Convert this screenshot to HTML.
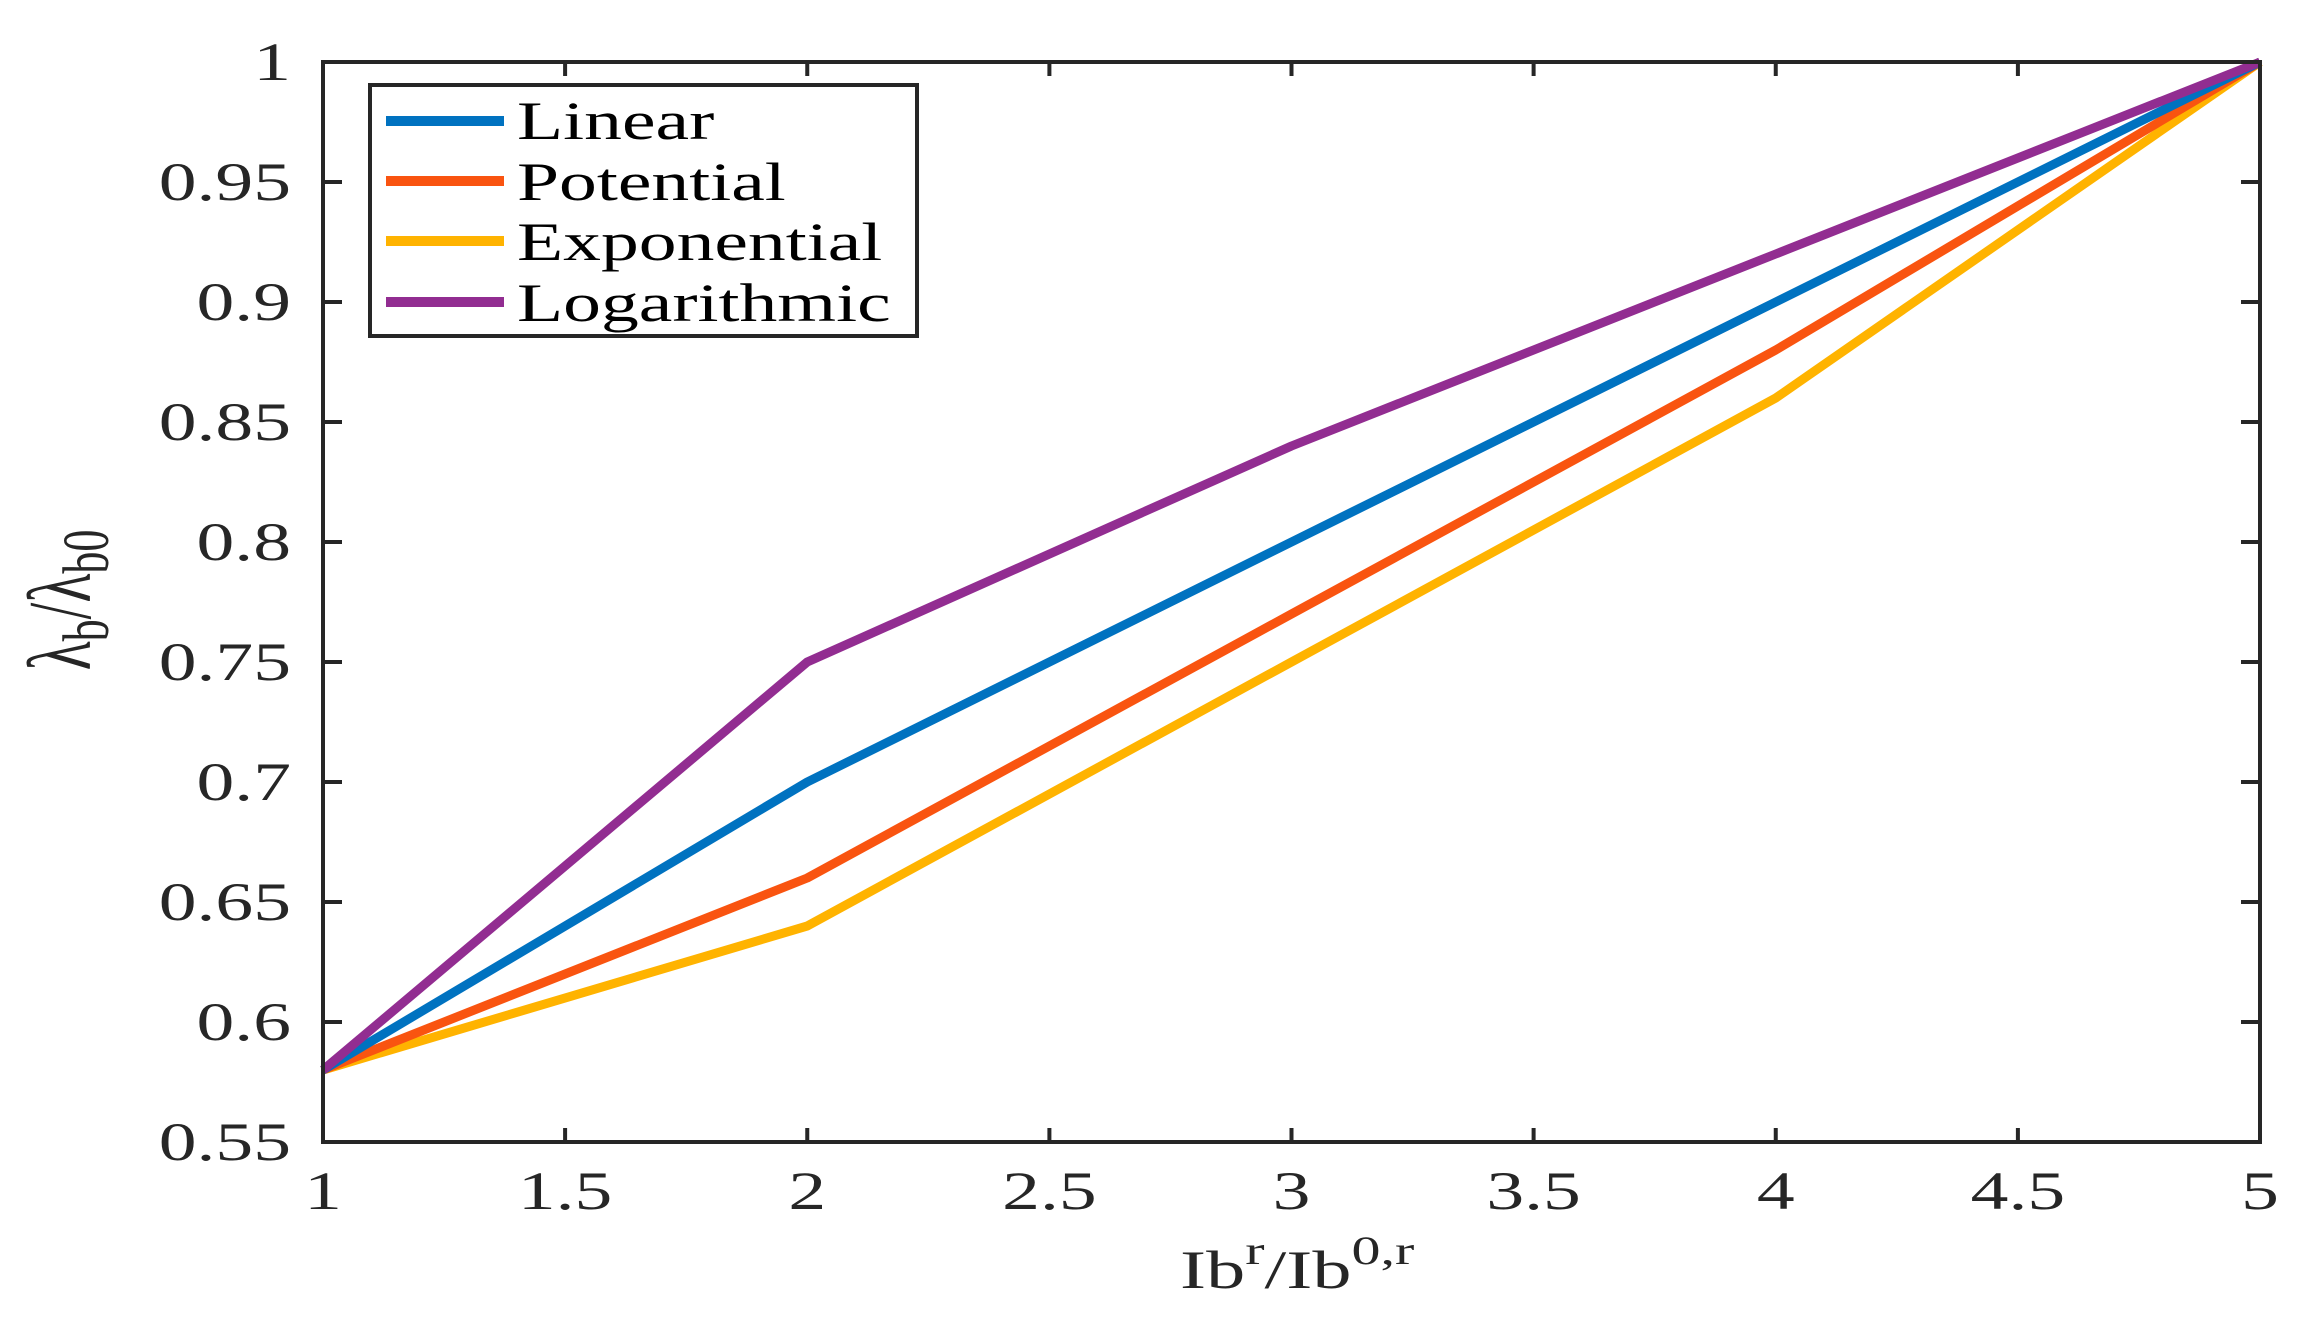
<!DOCTYPE html>
<html><head><meta charset="utf-8"><style>html,body{margin:0;padding:0;background:#fff}svg{display:block}</style></head>
<body>
<svg width="2309" height="1335" viewBox="0 0 2309 1335" xmlns="http://www.w3.org/2000/svg" font-family="'Liberation Serif', serif" fill="#262626">
<rect width="2309" height="1335" fill="#fff"/>
<g stroke-linejoin="round" stroke-linecap="butt" fill="none" stroke-width="9">
<polyline stroke="#FFB300" points="323,1070 807.25,926 1291.5,662 1775.75,398 2260,62"/>
<polyline stroke="#F95410" points="323,1070 807.25,878 1291.5,614 1775.75,350 2260,62"/>
<polyline stroke="#0072C0" points="323,1070 807.25,782 1291.5,542 1775.75,302 2260,62"/>
<polyline stroke="#922D91" points="323,1070 807.25,662 1291.5,446 1775.75,254 2260,62"/>
</g>
<g stroke="#262626" stroke-width="4" fill="none">
<rect x="323" y="62" width="1937" height="1080"/>
<path d="M807.25,1142v-14M807.25,62v14M1291.5,1142v-14M1291.5,62v14M1775.75,1142v-14M1775.75,62v14M565.1,1142v-14M565.1,62v14M1049.4,1142v-14M1049.4,62v14M1533.6,1142v-14M1533.6,62v14M2017.9,1142v-14M2017.9,62v14"/>
<path d="M323,182h19M2260,182h-19M323,302h19M2260,302h-19M323,422h19M2260,422h-19M323,542h19M2260,542h-19M323,662h19M2260,662h-19M323,782h19M2260,782h-19M323,902h19M2260,902h-19M323,1022h19M2260,1022h-19"/>
</g>
<g font-size="54" text-anchor="end">
<text transform="translate(291,80) scale(1.4,1)">1</text>
<text transform="translate(291,200) scale(1.4,1)">0.95</text>
<text transform="translate(291,320) scale(1.4,1)">0.9</text>
<text transform="translate(291,440) scale(1.4,1)">0.85</text>
<text transform="translate(291,560) scale(1.4,1)">0.8</text>
<text transform="translate(291,680) scale(1.4,1)">0.75</text>
<text transform="translate(291,800) scale(1.4,1)">0.7</text>
<text transform="translate(291,920) scale(1.4,1)">0.65</text>
<text transform="translate(291,1040) scale(1.4,1)">0.6</text>
<text transform="translate(291,1160) scale(1.4,1)">0.55</text>
</g>
<g font-size="54" text-anchor="middle">
<text transform="translate(323,1209) scale(1.4,1)">1</text>
<text transform="translate(565.1,1209) scale(1.4,1)">1.5</text>
<text transform="translate(807.25,1209) scale(1.4,1)">2</text>
<text transform="translate(1049.4,1209) scale(1.4,1)">2.5</text>
<text transform="translate(1291.5,1209) scale(1.4,1)">3</text>
<text transform="translate(1533.6,1209) scale(1.4,1)">3.5</text>
<text transform="translate(1775.75,1209) scale(1.4,1)">4</text>
<text transform="translate(2017.9,1209) scale(1.4,1)">4.5</text>
<text transform="translate(2260,1209) scale(1.4,1)">5</text>
</g>
<text font-size="54" transform="translate(1180,1288) scale(1.45,1)">Ib<tspan font-size="40" dy="-24">r</tspan><tspan dy="24">/Ib</tspan><tspan font-size="40" dy="-24">0,r</tspan></text>
<text font-size="60" text-anchor="middle" transform="translate(90,600) scale(1.5,1) rotate(-90)">λ<tspan font-size="44" dy="12">b</tspan><tspan dy="-12">/λ</tspan><tspan font-size="44" dy="12">b0</tspan></text>
<rect x="370" y="85" width="547" height="251" fill="#fff" stroke="#262626" stroke-width="4"/>
<g stroke-width="10">
<line x1="386" y1="121" x2="504" y2="121" stroke="#0072C0"/>
<line x1="386" y1="181" x2="504" y2="181" stroke="#F95410"/>
<line x1="386" y1="241" x2="504" y2="241" stroke="#FFB300"/>
<line x1="386" y1="302" x2="504" y2="302" stroke="#922D91"/>
</g>
<g font-size="54" fill="#000">
<text transform="translate(517,139) scale(1.4,1)">Linear</text>
<text transform="translate(517,200) scale(1.4,1)">Potential</text>
<text transform="translate(517,260) scale(1.4,1)">Exponential</text>
<text transform="translate(517,321) scale(1.4,1)">Logarithmic</text>
</g>
</svg>
</body></html>
